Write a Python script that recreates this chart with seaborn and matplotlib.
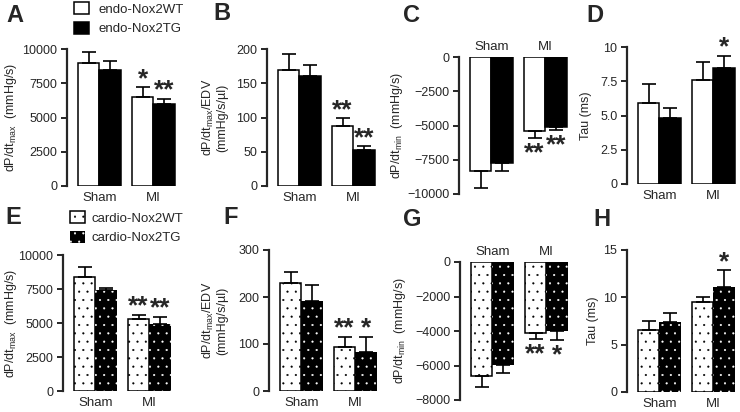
import matplotlib
matplotlib.use("Agg")
import matplotlib.pyplot as plt
from matplotlib.patches import Patch
import seaborn as sns
import pandas as pd

sns.set_style("ticks")
plt.rcParams['font.family'] = ['Liberation Sans', 'DejaVu Sans']
plt.rcParams['mathtext.default'] = 'regular'
plt.rcParams['hatch.linewidth'] = 0.3

# ---------------- data ----------------
groups = ["Sham", "MI"]
endo_labels = ["endo-Nox2WT", "endo-Nox2TG"]
cardio_labels = ["cardio-Nox2WT", "cardio-Nox2TG"]

# A: dP/dt max (endo)
A_wt = [9000, 6500]; A_wt_err = [800, 700]
A_tg = [8500, 5950]; A_tg_err = [650, 400]
A_stars_wt = ["", "*"]; A_stars_tg = ["", "**"]
# B: dP/dt max / EDV (endo)
B_wt = [170, 87]; B_wt_err = [23, 12]
B_tg = [161, 52]; B_tg_err = [15, 6]
B_stars_wt = ["", "**"]; B_stars_tg = ["", "**"]
# C: dP/dt min (endo)
C_wt = [-8300, -5400]; C_wt_err = [1280, 500]
C_tg = [-7750, -5100]; C_tg_err = [570, 250]
C_stars_wt = ["", "**"]; C_stars_tg = ["", "**"]
# D: Tau (endo)
D_wt = [5.9, 7.6]; D_wt_err = [1.4, 1.3]
D_tg = [4.8, 8.5]; D_tg_err = [0.75, 0.85]
D_stars_wt = ["", ""]; D_stars_tg = ["", "*"]
# E: dP/dt max (cardio)
E_wt = [8400, 5300]; E_wt_err = [700, 320]
E_tg = [7430, 4900]; E_tg_err = [120, 550]
E_stars_wt = ["", "**"]; E_stars_tg = ["", "**"]
# F: dP/dt max / EDV (cardio)
F_wt = [230, 94]; F_wt_err = [23, 21]
F_tg = [192, 82]; F_tg_err = [33, 33]
F_stars_wt = ["", "**"]; F_stars_tg = ["", "*"]
# G: dP/dt min (cardio)
G_wt = [-6620, -4100]; G_wt_err = [620, 390]
G_tg = [-5970, -4000]; G_tg_err = [490, 500]
G_stars_wt = ["", "**"]; G_stars_tg = ["", "*"]
# H: Tau (cardio)
H_wt = [6.6, 9.5]; H_wt_err = [0.9, 0.5]
H_tg = [7.35, 11.1]; H_tg_err = [0.95, 1.75]
H_stars_wt = ["", ""]; H_stars_tg = ["", "*"]

A_ticks = [0, 2500, 5000, 7500, 10000]
B_ticks = [0, 50, 100, 150, 200]
C_ticks = [-10000, -7500, -5000, -2500, 0]
D_ticks = [0, 2.5, 5.0, 7.5, 10]
D_ticklabels = ["0", "2.5", "5.0", "7.5", "10"]
E_ticks = [0, 2500, 5000, 7500, 10000]
F_ticks = [0, 100, 200, 300]
G_ticks = [-8000, -6000, -4000, -2000, 0]
H_ticks = [0, 5, 10, 15]

lab_max = "dP/dt$_{max}$  (mmHg/s)"
lab_edv = "dP/dt$_{max}$/EDV\n(mmHg/s/µl)"
lab_min = "dP/dt$_{min}$  (mmHg/s)"
lab_tau = "Tau (ms)"

# ---------------- layout (pixels) ----------------
W, H = 740, 412
fig = plt.figure(figsize=(W / 100, H / 100), dpi=100)
UNIT = 54
XL = (-0.6, 1.45)

panels = [
    dict(L="A", sx=67, top=49, bot=186, ylim=(0, 10000), wt=A_wt, we=A_wt_err, tg=A_tg, te=A_tg_err,
         sw=A_stars_wt, st=A_stars_tg, ticks=A_ticks, tl=None, yl=lab_max, lx=-48, dot=False, lp=(6, 16)),
    dict(L="B", sx=267, top=49, bot=186, ylim=(0, 200), wt=B_wt, we=B_wt_err, tg=B_tg, te=B_tg_err,
         sw=B_stars_wt, st=B_stars_tg, ticks=B_ticks, tl=None, yl=lab_edv, lx=-39, dot=False, lp=(213, 14)),
    dict(L="C", sx=459, top=57, bot=194, ylim=(-10000, 0), wt=C_wt, we=C_wt_err, tg=C_tg, te=C_tg_err,
         sw=C_stars_wt, st=C_stars_tg, ticks=C_ticks, tl=None, yl=lab_min, lx=-54, dot=False, lp=(403, 16)),
    dict(L="D", sx=627, top=47, bot=184, ylim=(0, 10), wt=D_wt, we=D_wt_err, tg=D_tg, te=D_tg_err,
         sw=D_stars_wt, st=D_stars_tg, ticks=D_ticks, tl=D_ticklabels, yl=lab_tau, lx=-35, dot=False, lp=(586, 16)),
    dict(L="E", sx=63, top=255, bot=391, ylim=(0, 10000), wt=E_wt, we=E_wt_err, tg=E_tg, te=E_tg_err,
         sw=E_stars_wt, st=E_stars_tg, ticks=E_ticks, tl=None, yl=lab_max, lx=-44, dot=True, lp=(5, 218)),
    dict(L="F", sx=269, top=250, bot=391, ylim=(0, 300), wt=F_wt, we=F_wt_err, tg=F_tg, te=F_tg_err,
         sw=F_stars_wt, st=F_stars_tg, ticks=F_ticks, tl=None, yl=lab_edv, lx=-41, dot=True, lp=(223, 218)),
    dict(L="G", sx=460, top=262, bot=400, ylim=(-8000, 0), wt=G_wt, we=G_wt_err, tg=G_tg, te=G_tg_err,
         sw=G_stars_wt, st=G_stars_tg, ticks=G_ticks, tl=None, yl=lab_min, lx=-52, dot=True, lp=(403, 220)),
    dict(L="H", sx=627, top=250, bot=392, ylim=(0, 15), wt=H_wt, we=H_wt_err, tg=H_tg, te=H_tg_err,
         sw=H_stars_wt, st=H_stars_tg, ticks=H_ticks, tl=None, yl=lab_tau, lx=-28, dot=True, lp=(593, 220)),
]

HATCH = ".."

for p in panels:
    width_px = (XL[1] - XL[0]) * UNIT
    ax = fig.add_axes([p["sx"] / W, 1 - p["bot"] / H, width_px / W, (p["bot"] - p["top"]) / H])
    labels = cardio_labels if p["dot"] else endo_labels
    df = pd.DataFrame({
        "group": groups * 2,
        "genotype": [labels[0]] * 2 + [labels[1]] * 2,
        "value": p["wt"] + p["tg"],
    })
    sns.barplot(data=df, x="group", y="value", hue="genotype", order=groups, hue_order=labels,
                palette=["white", "black"], edgecolor="black", linewidth=1.1, width=0.8,
                errorbar=None, legend=False, saturation=1, ax=ax)
    bars = list(ax.patches)[:4]
    wt_bars, tg_bars = bars[:2], bars[2:]
    if p["dot"]:
        for b in wt_bars:
            b.set_hatch(HATCH)
        for b in tg_bars:
            b.set_edgecolor("white")
            b.set_linewidth(0)
            b.set_hatch(HATCH)
    neg = p["ylim"][1] <= 0
    for blist, errs, stars in ((wt_bars, p["we"], p["sw"]), (tg_bars, p["te"], p["st"])):
        for b, e, s in zip(blist, errs, stars):
            xc = b.get_x() + b.get_width() / 2
            yv = b.get_y() + b.get_height()
            yerr = [[e], [0]] if neg else [[0], [e]]
            ax.errorbar([xc], [yv], yerr=yerr, fmt="none", ecolor="black", elinewidth=1.2,
                        capsize=5, capthick=1.2, zorder=1)
            if s:
                yend = yv - e if neg else yv + e
                dy = -11 if neg else 6
                ax.annotate(s, xy=(xc, yend), xytext=(0, dy), textcoords="offset points",
                            ha="center", va="center", fontsize=19, fontweight="bold",
                            annotation_clip=False)
    ax.set_xlim(*XL)
    ax.set_ylim(*p["ylim"])
    ax.set_yticks(p["ticks"])
    if p["tl"] is not None:
        ax.set_yticklabels(p["tl"])
    for sp in ("top", "right", "bottom"):
        ax.spines[sp].set_visible(False)
    ax.spines["left"].set_linewidth(1.6)
    ax.tick_params(axis="y", direction="out", length=4, width=1.4, labelsize=9, pad=3)
    ax.tick_params(axis="x", length=0, labelsize=9.5, pad=4)
    if neg:
        ax.xaxis.tick_top()
        ax.tick_params(axis="x", length=0, labelsize=9.5, pad=3)
    ax.set_xlabel("")
    ax.set_ylabel(p["yl"], fontsize=9, linespacing=1.0)
    ax.yaxis.set_label_coords(p["lx"] / width_px, 0.5)
    ax.set_facecolor("none")
    fig.text(p["lp"][0] / W, 1 - p["lp"][1] / H, p["L"], fontsize=17, fontweight="bold",
             ha="left", va="center")

# legends
endo_handles = [Patch(facecolor="white", edgecolor="black", linewidth=1.1),
                Patch(facecolor="black", edgecolor="black", linewidth=1.1)]
fig.legend(endo_handles, endo_labels, loc="upper left", bbox_to_anchor=(74 / W, 1 - 2 / H),
           frameon=False, fontsize=9.5, handlelength=1.1, handleheight=1.05, handletextpad=0.75,
           labelspacing=0.45, borderpad=0, borderaxespad=0)
cardio_handles = [Patch(facecolor="white", edgecolor="black", linewidth=1.1, hatch=HATCH),
                  Patch(facecolor="black", edgecolor="white", linewidth=0, hatch=HATCH)]
fig.legend(cardio_handles, cardio_labels, loc="upper left", bbox_to_anchor=(70 / W, 1 - 211 / H),
           frameon=False, fontsize=9.5, handlelength=1.1, handleheight=1.05, handletextpad=0.55,
           labelspacing=0.45, borderpad=0, borderaxespad=0)

fig.savefig("out.png", dpi=100)
